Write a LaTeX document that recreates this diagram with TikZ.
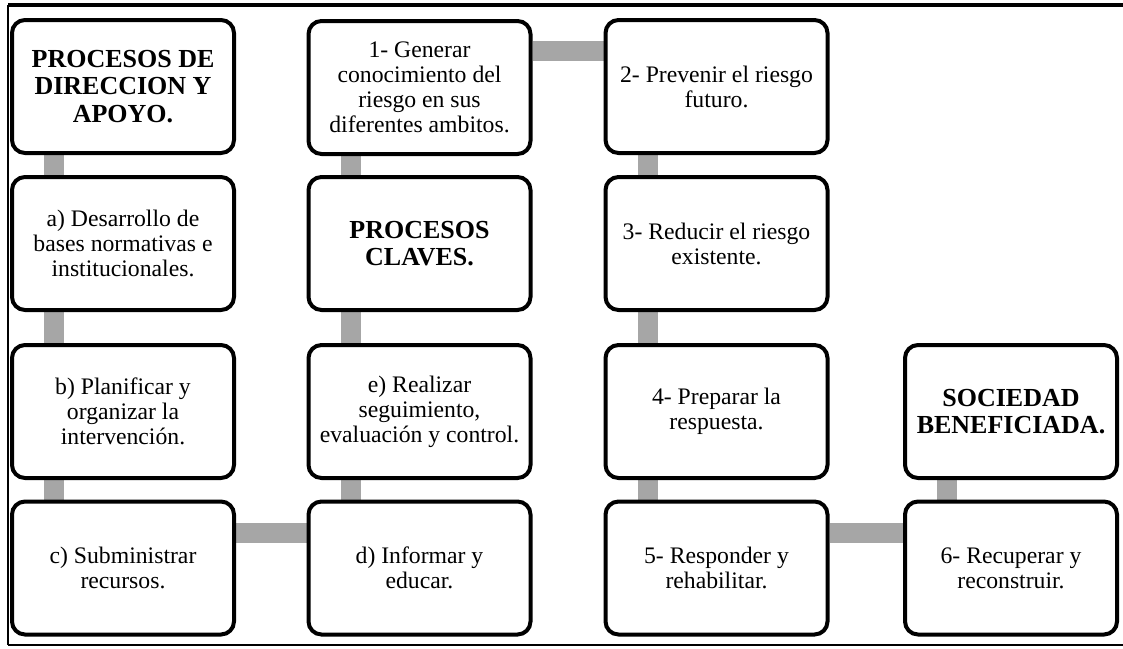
\documentclass[tikz,border=0pt]{standalone}
\usepackage{fontspec}
\setmainfont{Liberation Serif}
\usetikzlibrary{calc,backgrounds}
\definecolor{conngray}{RGB}{166,166,166}
\tikzset{
  box/.style={draw=black, line width=4pt, rounded corners=13pt, fill=white,
    minimum width=222pt, minimum height=133pt, inner sep=0pt, align=center,
    font=\fontsize{23.7}{25}\selectfont},
  boldbox/.style={box, font=\fontsize{26}{27.5}\selectfont\bfseries},
  conn/.style={draw=conngray, line width=20pt, line cap=butt},
  frameline/.style={draw=black}
}
\begin{document}
\begin{tikzpicture}[x=1pt,y=-1pt]
\useasboundingbox (0,0) rectangle (1123,648);
% frame
\draw[frameline, line width=3.5pt] (8,5) -- (1123,5);
\draw[frameline, line width=2.5pt] (8,5) -- (8,645);
\draw[frameline, line width=1.5pt] (8,645) -- (1123,645);
% column 1
\node[boldbox] (dir) at (123,86.5) {PROCESOS DE\\DIRECCION Y\\APOYO.};
\node[box] (a) at (123,243.5) {a) Desarrollo de\\bases normativas e\\institucionales.};
\node[box] (b) at (123,411.5) {b) Planificar y\\organizar la\\intervención.};
\node[box] (c) at (123,568) {c) Subministrar\\recursos.};
% column 2
\node[box] (g1) at (419.5,87.5) {1- Generar\\conocimiento del\\riesgo en sus\\diferentes ambitos.};
\node[boldbox] (clv) at (419.5,243.5) {PROCESOS\\CLAVES.};
\node[box] (e) at (419.5,411.5) {e) Realizar\\seguimiento,\\evaluación y control.};
\node[box] (d) at (419.5,568) {d) Informar y\\educar.};
% column 3
\node[box] (p2) at (716.5,86.5) {2- Prevenir el riesgo\\futuro.};
\node[box] (p3) at (716.5,243.5) {3- Reducir el riesgo\\existente.};
\node[box] (p4) at (716.5,411.5) {4- Preparar la\\respuesta.};
\node[box] (p5) at (716.5,568) {5- Responder y\\rehabilitar.};
% column 4
\node[boldbox, minimum width=212pt] (soc) at (1011,411.5) {SOCIEDAD\\BENEFICIADA.};
\node[box, minimum width=212pt] (p6) at (1011,568) {6- Recuperar y\\reconstruir.};
% connectors
\begin{pgfonlayer}{background}
\draw[conn] ($(dir.south west)+(44,0)$) -- ($(a.north west)+(44,0)$);
\draw[conn] ($(a.south west)+(44,0)$) -- ($(b.north west)+(44,0)$);
\draw[conn] ($(b.south west)+(44,0)$) -- ($(c.north west)+(44,0)$);
\draw[conn] ($(c.north east)+(0,33)$) -- ($(d.north west)+(0,33)$);
\draw[conn] ($(d.north west)+(44,0)$) -- ($(e.south west)+(44,0)$);
\draw[conn] ($(e.north west)+(44,0)$) -- ($(clv.south west)+(44,0)$);
\draw[conn] ($(clv.north west)+(44,0)$) -- ($(g1.south west)+(44,0)$);
\coordinate (topc) at ($(p2.north west)+(0,33)$);
\draw[conn] (topc) -- (topc -| g1.east);
\draw[conn] ($(p2.south west)+(44,0)$) -- ($(p3.north west)+(44,0)$);
\draw[conn] ($(p3.south west)+(44,0)$) -- ($(p4.north west)+(44,0)$);
\draw[conn] ($(p4.south west)+(44,0)$) -- ($(p5.north west)+(44,0)$);
\draw[conn] ($(p5.north east)+(0,33)$) -- ($(p6.north west)+(0,33)$);
\draw[conn] ($(p6.north west)+(44,0)$) -- ($(soc.south west)+(44,0)$);
\end{pgfonlayer}
\end{tikzpicture}
\end{document}
